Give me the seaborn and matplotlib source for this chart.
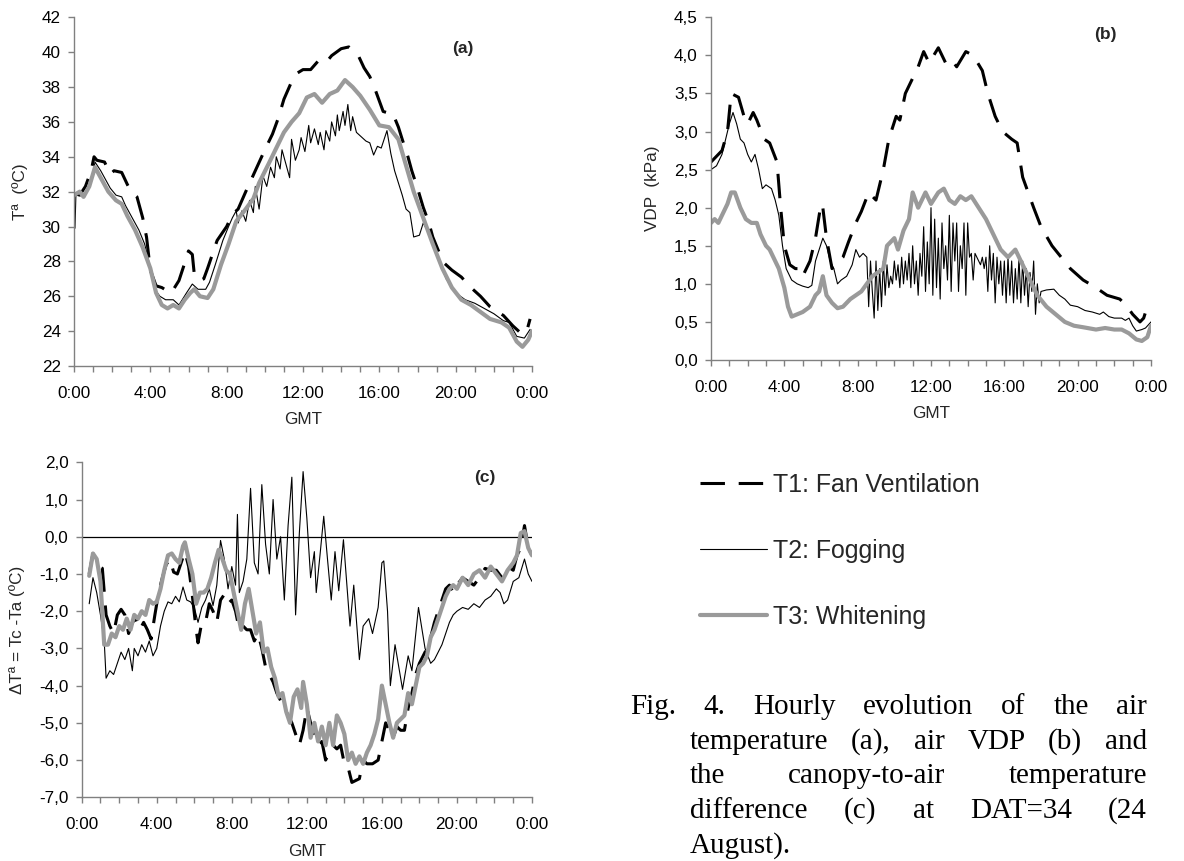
import numpy as np
import pandas as pd
import matplotlib
matplotlib.use("Agg")
import matplotlib.pyplot as plt
import seaborn as sns
from matplotlib.ticker import FixedLocator, MultipleLocator, FuncFormatter

# ---------------- data (hours GMT) ----------------
# Panel (a): air temperature (ºC)
a_t1_h = [0.0,0.3,0.6,0.9,1.05,1.2,1.6,1.9,2.1,2.5,2.8,3.0,3.3,3.6,3.8,4.0,4.3,4.6,4.9,5.1,5.5,5.8,6.0,6.2,6.3,6.6,6.8,7.0,7.5,8.0,8.3,8.6,9.0,9.5,10.0,10.4,10.7,11.0,11.4,11.7,12.0,12.4,12.8,13.2,13.5,14.0,14.4,14.7,14.9,15.2,15.5,15.8,16.2,16.5,16.7,17.0,17.2,17.5,17.7,18.0,18.3,18.6,18.8,19.1,19.4,19.8,20.3,20.8,21.3,21.8,22.2,22.5,23.0,23.4,23.7,23.9]
a_t1_v = [31.9,31.8,32.3,33.2,34.0,33.8,33.7,33.0,33.2,33.1,32.4,32.0,31.7,30.5,29.4,27.5,26.6,26.5,26.3,26.2,26.9,27.9,28.6,28.4,27.3,26.9,27.0,27.6,29.2,30.0,30.7,31.0,32.0,33.2,34.4,35.3,36.2,37.3,38.3,38.8,39.0,39.0,39.5,39.4,39.8,40.2,40.3,40.0,39.8,39.1,38.6,37.8,36.6,36.5,36.5,35.7,35.0,34.0,33.2,32.2,31.1,30.2,29.4,28.6,27.9,27.5,27.1,26.5,26.0,25.4,25.1,24.9,24.3,23.9,23.9,24.7]

a_t2_h = [0.05,0.1,0.3,0.5,0.8,1.0,1.1,1.4,1.7,1.9,2.2,2.5,2.7,3.0,3.4,3.7,3.9,4.1,4.3,4.5,4.8,5.2,5.5,5.9,6.2,6.5,6.9,7.1,7.4,7.8,8.1,8.3,8.5,8.6,8.8,9.0,9.2,9.4,9.5,9.7,9.9,10.1,10.3,10.5,10.6,10.8,10.9,11.1,11.3,11.4,11.6,11.8,11.9,12.1,12.3,12.4,12.6,12.8,12.9,13.1,13.2,13.4,13.5,13.7,13.8,13.9,14.1,14.2,14.35,14.5,14.6,14.8,15.0,15.3,15.5,15.7,15.9,16.1,16.4,16.6,16.8,17.0,17.2,17.4,17.6,17.8,18.1,18.3,18.6,19.0,19.5,20.0,20.5,21.0,21.5,22.0,22.5,22.8,23.2,23.6,23.9]
a_t2_v = [29.9,31.8,31.8,31.7,32.3,33.0,33.7,33.2,32.6,32.2,31.8,31.7,31.2,30.6,29.8,29.0,28.1,27.0,26.3,26.0,25.8,25.8,25.5,26.2,26.7,26.4,26.4,26.8,27.8,29.2,30.0,30.5,30.9,30.2,30.9,30.3,31.5,30.8,32.3,31.0,32.9,32.3,33.4,32.8,34.0,33.3,34.4,33.6,32.8,35.0,33.8,34.4,35.1,34.3,35.8,34.8,35.6,34.7,35.4,34.4,35.5,34.9,36.0,35.2,36.4,35.5,36.6,35.8,37.0,35.5,36.3,35.4,35.2,34.9,34.8,34.1,34.6,34.5,35.5,34.2,33.2,32.5,31.8,31.0,30.8,29.4,29.5,30.2,29.6,28.4,27.0,26.2,25.8,25.6,25.3,25.0,24.6,24.5,23.7,23.6,24.1]

a_t3_h = [0.0,0.3,0.5,0.8,1.1,1.4,1.8,2.2,2.5,2.8,3.2,3.6,4.0,4.3,4.6,4.9,5.2,5.5,5.8,6.1,6.3,6.6,7.0,7.3,7.7,8.1,8.5,9.0,9.4,9.7,10.2,10.6,11.0,11.4,11.8,12.2,12.6,13.0,13.4,13.8,14.2,14.6,15.0,15.5,16.0,16.5,17.0,17.4,17.8,18.3,18.8,19.3,19.8,20.3,20.8,21.3,21.8,22.4,22.8,23.2,23.5,23.8,24.0]
a_t3_v = [31.8,32.0,31.7,32.3,33.4,32.8,32.0,31.5,31.3,30.6,29.8,28.8,27.6,26.2,25.5,25.3,25.5,25.3,25.8,26.2,26.4,26.0,25.9,26.4,27.8,29.0,30.3,31.0,31.6,32.5,33.6,34.5,35.4,36.0,36.5,37.4,37.6,37.1,37.6,37.8,38.4,38.0,37.5,36.7,35.8,35.7,35.0,33.5,32.0,30.5,29.0,27.6,26.5,25.8,25.5,25.1,24.7,24.5,24.2,23.4,23.1,23.5,24.0]

# Panel (b): air VDP (kPa)
b_t1_h = [0.0,0.4,0.6,0.9,1.1,1.5,1.8,2.0,2.3,2.5,2.9,3.2,3.6,3.8,4.0,4.3,4.6,4.8,5.0,5.4,5.7,6.0,6.1,6.3,6.6,7.0,7.2,7.5,7.9,8.2,8.6,9.0,9.4,9.7,10.1,10.3,10.6,11.0,11.3,11.6,11.9,12.4,12.8,13.1,13.4,13.9,14.3,14.8,15.1,15.5,15.9,16.4,16.7,17.0,17.6,18.0,18.6,19.1,19.6,20.3,21.0,21.6,22.3,22.7,23.0,23.4,23.6,23.9]
b_t1_v = [2.6,2.7,2.75,3.0,3.5,3.45,3.2,3.1,3.25,3.15,2.9,2.85,2.6,2.0,1.5,1.25,1.2,1.2,1.1,1.3,1.6,2.05,2.0,1.6,1.2,1.3,1.35,1.55,1.8,1.95,2.2,2.1,2.5,2.9,3.2,3.15,3.5,3.7,3.85,4.05,3.9,4.1,3.9,3.95,3.85,4.05,4.0,3.8,3.5,3.2,3.0,2.9,2.85,2.4,2.0,1.75,1.5,1.35,1.2,1.05,0.95,0.85,0.8,0.7,0.6,0.5,0.55,0.78]

b_t2_h = [0.0,0.3,0.6,0.8,1.0,1.2,1.4,1.6,1.8,2.0,2.2,2.4,2.6,2.8,3.0,3.3,3.5,3.7,3.9,4.1,4.4,4.7,5.0,5.3,5.5,5.7,5.9,6.1,6.3,6.5,6.7,6.9,7.1,7.4,7.7,7.9,8.1,8.3,
          8.5,8.6,8.7,8.8,8.9,9.0,9.1,9.2,9.3,9.4,9.5,9.6,9.7,9.8,9.9,10.0,10.1,10.2,10.3,10.4,10.5,10.6,10.7,10.8,10.9,11.0,11.1,11.2,11.3,11.4,11.5,11.6,11.7,11.8,11.9,12.0,12.1,12.2,12.3,12.4,12.5,12.6,12.7,12.8,12.9,13.0,13.1,13.2,13.3,13.4,13.5,13.6,13.7,13.8,13.9,14.0,14.1,14.2,14.3,14.4,14.5,14.6,14.7,14.8,14.9,15.0,15.1,15.2,15.3,15.4,15.5,15.6,15.7,15.8,15.9,16.0,16.1,16.2,16.3,16.4,16.5,16.6,16.7,16.8,16.9,17.0,17.1,17.2,17.3,17.4,17.5,17.6,17.7,17.8,17.9,18.0,
          18.3,18.7,19.0,19.3,19.6,20.0,20.4,20.8,21.2,21.4,21.7,22.0,22.4,22.6,22.8,23.0,23.2,23.5,23.7,24.0]
b_t2_v = [2.5,2.55,2.7,2.9,3.1,3.25,3.1,2.9,2.85,2.7,2.6,2.7,2.5,2.25,2.3,2.25,2.1,1.9,1.5,1.2,1.05,1.0,0.97,0.95,0.98,1.3,1.45,1.6,1.5,1.3,1.2,1.0,1.05,1.1,1.25,1.45,1.35,1.4,
          1.35,0.7,1.3,0.9,0.55,1.3,0.65,1.2,0.7,1.3,0.85,1.25,0.95,1.1,1.0,1.3,1.05,1.25,0.95,1.35,1.0,1.3,1.05,1.4,0.95,1.5,1.0,1.3,0.85,1.4,1.1,1.75,0.9,1.55,1.0,2.0,0.85,1.85,0.95,1.6,0.8,1.8,1.2,1.5,1.05,1.9,0.9,1.8,1.3,1.8,0.9,1.5,1.2,1.8,0.85,1.8,1.35,1.4,1.05,1.4,1.35,1.3,1.25,1.35,1.2,1.35,0.9,1.5,1.05,1.4,0.75,1.35,1.0,1.3,0.85,1.3,0.75,1.35,0.85,1.3,0.75,1.2,0.8,1.35,0.75,1.3,0.85,1.2,0.7,1.15,0.9,1.3,0.6,1.0,0.75,0.9,
          0.92,0.93,0.85,0.8,0.72,0.7,0.65,0.63,0.6,0.63,0.57,0.55,0.55,0.52,0.55,0.45,0.38,0.4,0.42,0.5]

b_t3_h = [0.0,0.2,0.4,0.6,0.9,1.1,1.3,1.6,1.9,2.2,2.5,2.7,3.0,3.2,3.5,3.7,4.0,4.2,4.4,4.7,5.0,5.4,5.7,5.9,6.1,6.3,6.6,6.9,7.2,7.6,7.9,8.2,8.5,8.8,9.1,9.4,9.6,10.0,10.2,10.5,10.8,11.0,11.3,11.7,12.0,12.4,12.7,13.0,13.3,13.6,13.9,14.2,14.6,15.0,15.4,15.8,16.2,16.6,16.9,17.3,17.8,18.3,18.8,19.3,19.8,20.3,21.0,21.5,22.0,22.4,22.8,23.2,23.5,23.8,24.0]
b_t3_v = [1.8,1.85,1.8,1.9,2.05,2.2,2.2,2.0,1.85,1.8,1.8,1.65,1.5,1.45,1.3,1.2,0.95,0.7,0.57,0.6,0.63,0.7,0.85,0.9,1.1,0.85,0.75,0.68,0.7,0.8,0.85,0.9,1.0,1.1,1.15,1.2,1.5,1.6,1.45,1.7,1.85,2.2,2.0,2.2,2.05,2.2,2.25,2.1,2.05,2.15,2.1,2.15,2.0,1.85,1.65,1.45,1.35,1.45,1.3,1.1,0.85,0.7,0.6,0.5,0.45,0.43,0.4,0.42,0.4,0.4,0.35,0.27,0.25,0.3,0.45]

# Panel (c): canopy-to-air temperature difference (ºC)
c_t1_h = [0.4,0.6,0.9,1.1,1.3,1.5,1.7,1.9,2.1,2.3,2.5,2.7,2.9,3.1,3.3,3.5,3.7,3.9,4.1,4.3,4.5,4.7,4.9,5.1,5.3,5.5,5.7,5.9,6.1,6.2,6.4,6.6,6.8,7.0,7.2,7.4,7.6,7.8,8.0,8.2,8.4,8.6,8.8,9.0,9.2,9.4,9.6,9.8,10.0,10.2,10.4,10.6,10.8,11.0,11.2,11.4,11.6,11.8,12.0,12.2,12.4,12.6,12.8,13.0,13.2,13.4,13.6,13.8,14.0,14.2,14.4,14.6,14.8,15.0,15.2,15.5,15.8,16.0,16.2,16.4,16.6,16.8,17.0,17.2,17.4,17.6,17.8,18.0,18.2,18.4,18.6,18.8,19.0,19.2,19.4,19.6,19.8,20.0,20.3,20.6,20.9,21.2,21.5,21.8,22.1,22.4,22.7,23.0,23.2,23.4,23.6,23.8,24.0]
c_t1_v = [-1.0,-0.45,-0.8,-0.85,-2.1,-2.4,-2.6,-2.1,-1.95,-2.1,-2.6,-2.3,-2.2,-2.5,-2.3,-2.5,-2.75,-2.1,-1.5,-1.1,-0.75,-0.6,-0.95,-1.0,-0.7,-0.4,-0.8,-1.6,-2.5,-2.85,-2.3,-2.3,-1.8,-2.0,-2.3,-1.7,-1.55,-1.8,-1.7,-2.0,-2.5,-2.4,-2.5,-2.5,-2.8,-2.6,-3.0,-3.5,-3.7,-3.9,-4.2,-4.4,-4.6,-4.8,-5.0,-5.3,-5.6,-5.2,-4.6,-5.0,-5.4,-5.6,-5.5,-6.0,-5.8,-5.6,-5.7,-5.6,-6.1,-6.2,-6.6,-6.55,-6.5,-6.0,-6.1,-6.1,-6.0,-5.5,-5.0,-5.2,-5.4,-5.1,-5.2,-5.2,-4.6,-4.2,-3.7,-3.4,-3.2,-3.0,-2.7,-2.3,-2.0,-1.7,-1.4,-1.3,-1.5,-1.3,-1.1,-1.2,-1.3,-1.1,-0.85,-0.9,-0.9,-1.1,-0.8,-0.9,-0.5,-0.3,0.3,-0.3,-0.5]

c_t2_h = [0.4,0.6,0.8,1.0,1.2,1.3,1.5,1.7,1.9,2.1,2.3,2.5,2.7,2.8,3.0,3.2,3.4,3.6,3.8,4.0,4.2,4.4,4.6,4.8,5.0,5.2,5.4,5.6,5.8,6.0,6.2,6.4,6.6,6.8,7.0,7.2,7.4,7.6,7.8,8.0,8.2,8.3,8.4,8.6,8.8,9.0,9.2,9.4,9.6,9.8,10.0,10.2,10.4,10.6,10.8,11.0,11.2,11.4,11.6,11.8,12.0,12.2,12.4,12.5,12.7,12.9,13.1,13.3,13.5,13.7,13.95,14.3,14.5,14.8,15.0,15.3,15.5,15.8,16.0,16.1,16.3,16.45,16.7,17.1,17.4,17.6,17.95,18.3,18.6,18.8,19.0,19.2,19.4,19.6,19.8,20.0,20.3,20.6,20.9,21.2,21.5,21.8,22.1,22.3,22.5,22.7,23.0,23.3,23.6,23.8,24.0]
c_t2_v = [-1.8,-1.1,-1.5,-2.1,-2.8,-3.8,-3.6,-3.7,-3.4,-3.1,-3.3,-3.0,-3.6,-3.0,-3.2,-2.9,-3.1,-2.8,-3.2,-3.0,-2.4,-2.0,-1.75,-1.8,-1.6,-1.75,-1.35,-1.7,-1.75,-1.9,-2.3,-1.9,-1.7,-1.4,-1.85,-1.3,-0.1,-0.6,-1.4,-0.8,-1.3,0.6,-1.5,-1.2,-0.6,1.3,-0.7,-1.0,1.4,-0.2,-1.0,1.0,-0.6,0.0,-1.7,0.3,1.6,-2.1,0.1,1.75,0.5,-1.1,-0.4,-1.5,-0.5,0.55,-0.6,-1.7,-0.4,-1.45,-0.08,-2.4,-1.3,-3.3,-2.4,-2.2,-2.6,-1.9,-0.7,-0.65,-2.0,-4.0,-2.9,-4.1,-3.2,-3.6,-1.9,-3.0,-3.4,-3.3,-3.1,-2.9,-2.6,-2.3,-2.1,-2.0,-1.9,-1.95,-1.8,-1.9,-1.7,-1.6,-1.4,-1.5,-1.8,-1.7,-1.2,-1.1,-0.6,-1.0,-1.2]

c_t3_h = [0.4,0.6,0.8,1.0,1.2,1.4,1.6,1.8,2.0,2.2,2.4,2.6,2.8,3.0,3.2,3.4,3.6,3.8,4.0,4.2,4.4,4.6,4.8,5.0,5.2,5.4,5.5,5.7,5.9,6.1,6.3,6.5,6.7,6.9,7.1,7.3,7.5,7.7,7.9,8.1,8.3,8.5,8.7,8.9,9.1,9.3,9.5,9.7,9.9,10.1,10.3,10.5,10.7,10.9,11.1,11.3,11.5,11.7,11.8,12.0,12.2,12.4,12.6,12.8,13.0,13.2,13.4,13.6,13.8,14.0,14.2,14.4,14.6,14.8,15.0,15.2,15.4,15.6,15.8,16.0,16.2,16.4,16.6,16.8,17.0,17.2,17.4,17.6,17.8,18.0,18.2,18.4,18.6,18.8,19.0,19.2,19.4,19.6,19.8,20.0,20.3,20.6,20.9,21.2,21.5,21.8,22.1,22.4,22.7,23.0,23.2,23.4,23.6,23.8,24.0]
c_t3_v = [-1.05,-0.45,-0.6,-1.2,-2.9,-2.9,-2.6,-2.7,-2.4,-2.5,-2.2,-2.5,-2.1,-2.2,-2.0,-2.1,-1.7,-1.8,-1.75,-1.4,-0.9,-0.5,-0.45,-0.6,-0.7,-0.25,-0.15,-0.6,-1.0,-1.8,-1.5,-1.5,-1.4,-1.1,-0.7,-0.35,-0.6,-0.9,-1.0,-1.5,-2.0,-2.5,-1.8,-1.4,-2.0,-2.6,-2.3,-3.1,-3.0,-3.5,-3.8,-4.3,-4.2,-4.7,-5.0,-4.3,-4.1,-4.6,-3.9,-4.5,-5.4,-5.0,-5.5,-5.1,-5.6,-5.0,-5.6,-4.8,-5.0,-5.3,-6.0,-5.8,-6.1,-5.9,-6.1,-5.8,-5.6,-5.3,-4.9,-4.0,-4.5,-5.0,-5.4,-5.0,-4.9,-4.8,-4.2,-4.5,-4.0,-3.5,-3.4,-3.2,-2.7,-2.5,-2.2,-1.9,-1.6,-1.4,-1.3,-1.4,-1.1,-1.3,-1.0,-0.9,-1.1,-0.8,-1.0,-1.2,-0.9,-0.7,-0.5,0.1,0.15,-0.3,-0.5]

labels = ["T1: Fan Ventilation", "T2: Fogging", "T3: Whitening"]
hour_ticks = [0, 4, 8, 12, 16, 20, 24]
hour_labels = ["0:00", "4:00", "8:00", "12:00", "16:00", "20:00", "0:00"]
caption_lines = [
    "Fig. 4. Hourly evolution of the air",
    "temperature (a), air VDP (b) and",
    "the canopy-to-air temperature",
    "difference (c) at DAT=34 (24",
    "August).",
]

# ---------------- style ----------------
sns.set_theme(style="white")
plt.rcParams['font.family'] = ['Liberation Sans', 'DejaVu Sans']
W, H = 1184, 861
fig = plt.figure(figsize=(W / 100, H / 100), dpi=100)

GRAY_AX = "#808080"
T3_COLOR = "#9a9a9a"
DASH = (0, (8, 4.5))
TICK_FS = 12.3
LAB_FS = 12.3

styles = [
    dict(color="black", linewidth=2.2, linestyle=DASH),
    dict(color="black", linewidth=0.8, linestyle="-"),
    dict(color=T3_COLOR, linewidth=3.0, linestyle="-"),
]

def comma_fmt(nd):
    return FuncFormatter(lambda v, p: (f"{v:.{nd}f}").replace('.', ','))

def style_axes(ax, ylim, ystep, nd, ylabel):
    ax.set_xlim(0, 24)
    ax.set_ylim(*ylim)
    ax.xaxis.set_major_locator(FixedLocator(hour_ticks))
    ax.xaxis.set_minor_locator(MultipleLocator(1))
    ax.set_xticklabels(hour_labels)
    ax.yaxis.set_major_locator(MultipleLocator(ystep))
    ax.yaxis.set_major_formatter(comma_fmt(nd))
    for s in ["top", "right"]:
        ax.spines[s].set_visible(False)
    for s in ["left", "bottom"]:
        ax.spines[s].set_color(GRAY_AX)
        ax.spines[s].set_linewidth(1.0)
    ax.tick_params(axis="both", which="both", direction="out", length=4,
                   width=1.0, color=GRAY_AX, labelsize=TICK_FS, labelcolor="black")
    ax.tick_params(axis="x", which="both", bottom=True, pad=10.5)
    ax.tick_params(axis="y", which="both", left=True, pad=5.5)
    ax.set_xlabel("GMT", fontsize=LAB_FS, labelpad=8)
    ax.set_ylabel(ylabel, fontsize=LAB_FS, labelpad=10)
    ax.grid(False)
    ax.set_facecolor("white")

def draw(ax, series):
    for (hh, vv), st in zip(series, styles):
        df = pd.DataFrame({"h": hh, "v": vv})
        sns.lineplot(data=df, x="h", y="v", ax=ax, estimator=None, sort=False, **st)

ax_a = fig.add_axes([74 / W, 1 - 366 / H, (532 - 74) / W, (366 - 17.3) / H])
ax_b = fig.add_axes([711 / W, 1 - 360 / H, (1151 - 711) / W, (360 - 17.3) / H])
ax_c = fig.add_axes([81.7 / W, 1 - 797.3 / H, (532 - 81.7) / W, (797.3 - 462.3) / H])

draw(ax_a, [(a_t1_h, a_t1_v), (a_t2_h, a_t2_v), (a_t3_h, a_t3_v)])
draw(ax_b, [(b_t1_h, b_t1_v), (b_t2_h, b_t2_v), (b_t3_h, b_t3_v)])
ax_c.axhline(0, color="black", linewidth=0.9, zorder=1)
draw(ax_c, [(c_t1_h, c_t1_v), (c_t2_h, c_t2_v), (c_t3_h, c_t3_v)])

style_axes(ax_a, (22, 42), 2, 0, "Tª  (ºC)")
style_axes(ax_b, (0, 4.5), 0.5, 1, "VDP  (kPa)")
style_axes(ax_c, (-7, 2), 1, 1, "ΔTª = Tc -Ta (ºC)")

ax_a.text(20.35, 40.2, "(a)", fontsize=12.5, fontweight="bold", ha="center", va="center")
ax_b.text(21.5, 4.28, "(b)", fontsize=12.5, fontweight="bold", ha="center", va="center")
ax_c.text(21.5, 1.58, "(c)", fontsize=12.5, fontweight="bold", ha="center", va="center")

# legend
handles = ax_a.get_lines()[:3]
fig.legend(handles, labels, loc="upper left", bbox_to_anchor=(700 / W, 1 - 473 / H),
           frameon=False, fontsize=17.9, handlelength=2.7, handletextpad=0.25,
           labelspacing=1.68, borderpad=0, borderaxespad=0)

# justified caption
renderer = fig.canvas.get_renderer()
CAP_FS = 21
def caption_line(text, x_left, x_right, y_base, justify=True):
    words = text.split(" ")
    ts = [fig.text(0, 0, w, fontsize=CAP_FS, family=["Liberation Serif", "DejaVu Serif"],
                   ha="left", va="baseline", color="black") for w in words]
    widths = [t.get_window_extent(renderer).width for t in ts]
    if justify and len(words) > 1:
        gap = (x_right - x_left - sum(widths)) / (len(words) - 1)
    else:
        gap = CAP_FS * 100 / 72 * 0.25
    x = x_left
    for t, w in zip(ts, widths):
        t.set_position((x / W, 1 - y_base / H))
        x += w + gap

bases = [714, 749, 783, 818, 853]
caption_line(caption_lines[0], 630, 1147, bases[0])
caption_line(caption_lines[1], 690, 1147, bases[1])
caption_line(caption_lines[2], 690, 1147, bases[2])
caption_line(caption_lines[3], 690, 1147, bases[3])
caption_line(caption_lines[4], 690, 1147, bases[4], justify=False)

fig.savefig("out.png", dpi=100)
